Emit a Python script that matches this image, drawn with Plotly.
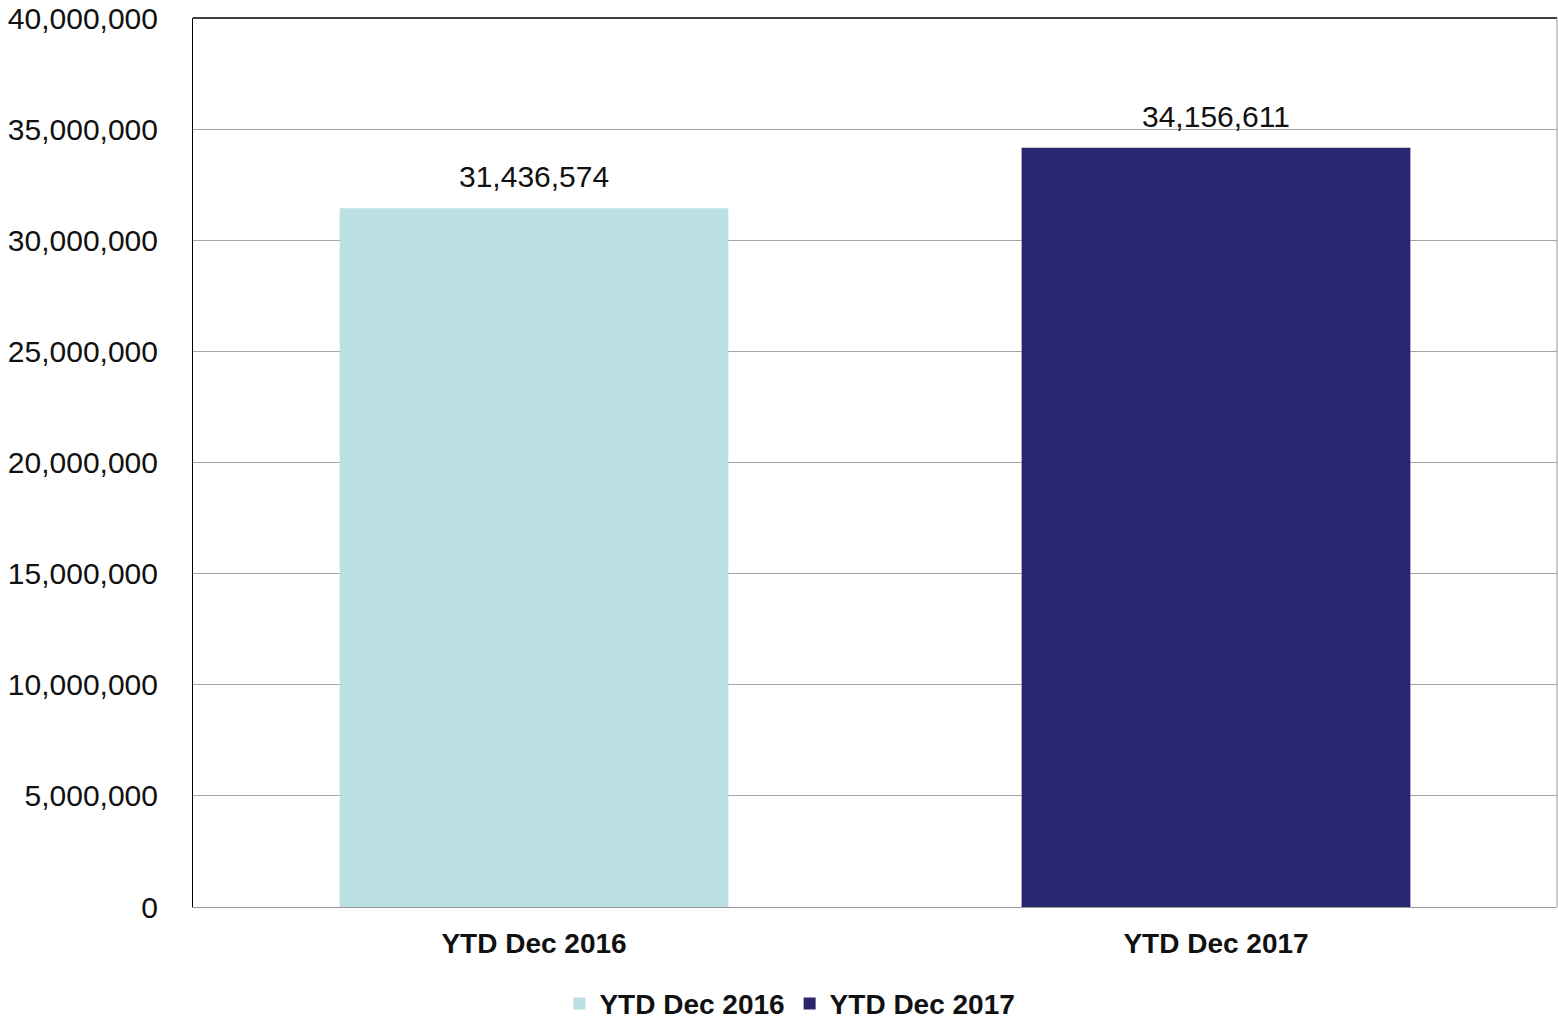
import plotly.graph_objects as go

categories = ['YTD Dec 2016', 'YTD Dec 2017']
values = [31436574, 34156611]
colors = ['#BAE0E3', '#27266F']

num_font = dict(family='Liberation Sans', size=30, color='#111111', weight='normal')
cat_font = dict(family='Liberation Sans', size=28, color='#111111', weight='bold')

fig = go.Figure()

for cat, val, col in zip(categories, values, colors):
    fig.add_trace(
        go.Bar(
            x=[cat],
            y=[val],
            name=cat,
            marker=dict(color=col, line=dict(width=0)),
            width=0.57,
        )
    )
    # value label above each bar
    fig.add_annotation(
        x=cat, y=val, text=f'{val:,}', showarrow=False,
        yanchor='bottom', yshift=13,
        font=num_font,
    )

fig.update_layout(
    width=1558,
    height=1019,
    margin=dict(l=193, r=1, t=14, b=112),
    plot_bgcolor='white',
    paper_bgcolor='white',
    barmode='overlay',
    font=cat_font,
    xaxis=dict(
        showgrid=False,
        showline=True,
        linecolor='#999999',
        linewidth=1,
        tickfont=cat_font,
        ticklabelstandoff=11,
    ),
    yaxis=dict(
        range=[0, 40000000],
        dtick=5000000,
        tickformat=',',
        showgrid=True,
        gridcolor='#a6a6a6',
        gridwidth=1,
        showline=True,
        linecolor='#000000',
        linewidth=1,
        zeroline=False,
        tickfont=num_font,
        ticklabelstandoff=28,
        ticklabeloverflow='allow',
    ),
    legend=dict(
        orientation='h',
        xref='container', yref='container',
        x=0.507, xanchor='center',
        y=0.015, yanchor='middle',
        font=cat_font,
        itemwidth=30,
        traceorder='normal',
    ),
    shapes=[
        dict(type='line', xref='paper', yref='paper', x0=0, x1=1, y0=1, y1=1,
             line=dict(color='#000000', width=1.5)),
        dict(type='line', xref='paper', yref='paper', x0=1, x1=1, y0=0, y1=1,
             line=dict(color='#999999', width=1)),
    ],
)

# drop the default page margin so the figure sits at the window origin
fig.write_html('out.html', config={'displayModeBar': False},
               post_script="document.body.style.margin='0';")
